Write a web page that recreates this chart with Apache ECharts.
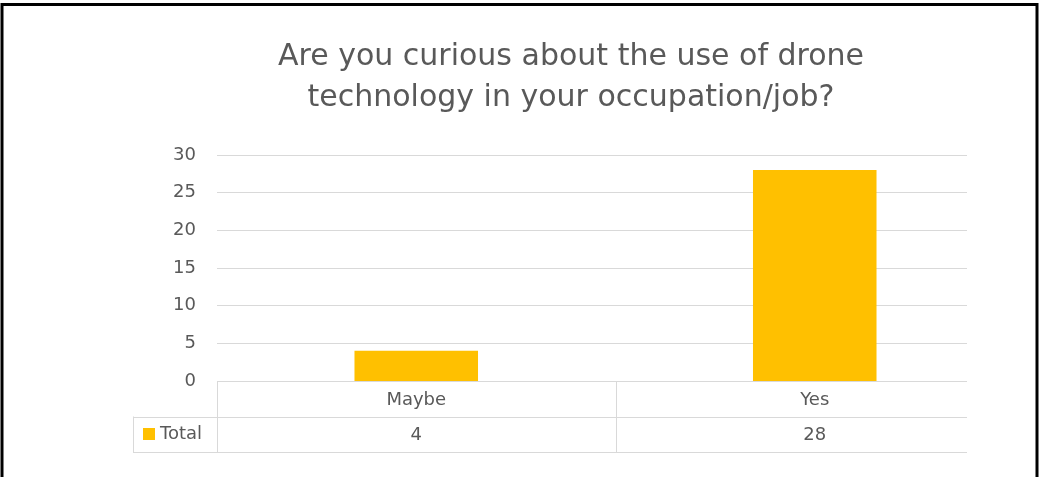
<!DOCTYPE html>
<html>
<head>
<meta charset="utf-8">
<script src="https://cdn.jsdelivr.net/npm/echarts@6/dist/echarts.min.js"></script>
<style>
  html, body { margin: 0; padding: 0; background: #fff; }
  #chart { width: 1041px; height: 477px; }
</style>
</head>
<body>
<div id="chart"></div>
<script>
// Survey answers and counts
const categories = ['Maybe', 'Yes'];
const totals = [4, 28];
const seriesName = 'Total';
const yTicks = { min: 0, max: 30, interval: 5 };
const titleText = 'Are you curious about the use of drone\ntechnology in your occupation/job?';

const textColor = '#595959';
const lineColor = '#d9d9d9';
const barColor = '#FFC000';
const font = 'DejaVu Sans';

// layout
const W = 1041;
const plotLeft = 217;
const plotTop = 155;
const plotBottom = 96;
const gridLinesRight = 74;   // value gridlines and table stop here
const bandsRight = 27;       // category bands span a little further
const headLeft = 133;        // left edge of the "Total" header cell
const rowH = 35.5;

const chart = echarts.init(document.getElementById('chart'), null, { renderer: 'canvas' });

const labelStyle = { fontFamily: font, fontSize: 18, color: textColor };

const option = {
  animation: false,
  backgroundColor: '#fff',
  title: {
    text: titleText,
    left: 566,
    top: 32,
    textAlign: 'center',
    textStyle: {
      fontFamily: font,
      fontSize: 30,
      fontWeight: 'normal',
      color: textColor,
      lineHeight: 40.5
    }
  },
  legend: {
    data: [seriesName],
    left: 138,
    top: 420,
    icon: 'rect',
    itemWidth: 12,
    itemHeight: 12,
    textStyle: labelStyle
  },
  grid: [
    { left: plotLeft, right: bandsRight, top: plotTop, bottom: plotBottom },
    { left: plotLeft, right: gridLinesRight, top: plotTop, bottom: plotBottom }
  ],
  xAxis: [
    {
      gridIndex: 0,
      type: 'category',
      data: categories,
      axisLine: { show: false },
      axisTick: { show: false },
      axisLabel: Object.assign({ margin: 9, lineHeight: 20 }, labelStyle)
    },
    {
      // value row of the data table
      gridIndex: 0,
      type: 'category',
      data: categories,
      position: 'bottom',
      offset: 35,
      axisLine: { show: false },
      axisTick: { show: false },
      axisLabel: Object.assign({
        margin: 9, lineHeight: 20,
        formatter: (v, i) => String(totals[i])
      }, labelStyle)
    },
    {
      gridIndex: 1,
      type: 'category',
      data: categories,
      show: false
    }
  ],
  yAxis: [
    {
      gridIndex: 0,
      type: 'value',
      min: yTicks.min, max: yTicks.max, interval: yTicks.interval,
      show: false,
      splitLine: { show: false }
    },
    {
      gridIndex: 1,
      type: 'value',
      min: yTicks.min, max: yTicks.max, interval: yTicks.interval,
      axisLine: { show: false },
      axisTick: { show: false },
      axisLabel: Object.assign({ margin: 21 }, labelStyle),
      splitLine: { lineStyle: { color: lineColor, width: 1 } }
    }
  ],
  series: [{
    name: seriesName,
    type: 'bar',
    xAxisIndex: 0,
    yAxisIndex: 0,
    data: totals,
    barWidth: '31%',
    itemStyle: { color: barColor }
  }]
};

chart.setOption(option);

// Data table borders, placed from the axis scales
const xa = chart.convertToPixel({ xAxisIndex: 0 }, categories[0]);
const xb = chart.convertToPixel({ xAxisIndex: 0 }, categories[1]);
const band = xb - xa;
const gLeft = xa - band / 2;
const tableRight = W - gridLinesRight;
const y0 = chart.convertToPixel({ yAxisIndex: 1 }, 0);
const y1 = y0 + rowH;
const y2 = y1 + rowH;

const ls = { stroke: lineColor, lineWidth: 1 };
const hline = (xs, xe, y) => ({ type: 'line', silent: true, shape: { x1: xs, y1: Math.round(y) + 0.5, x2: xe, y2: Math.round(y) + 0.5 }, style: ls });
const vline = (x, ys, ye) => ({ type: 'line', silent: true, shape: { x1: Math.round(x) + 0.5, y1: ys, x2: Math.round(x) + 0.5, y2: ye }, style: ls });

const elements = [
  hline(headLeft, tableRight, y1),
  hline(headLeft, tableRight, y2),
  vline(headLeft, y1, y2),
  vline(gLeft, y0, y2)
];
for (let i = 1; i < categories.length; i++) {
  elements.push(vline(gLeft + band * i, y0, y2));
}
// outer frame
elements.push({
  type: 'rect', silent: true,
  shape: { x: 2, y: 4.5, width: 1035, height: 520 },
  style: { fill: 'none', stroke: '#000', lineWidth: 3 }
});

chart.setOption({ graphic: { elements } });
</script>
</body>
</html>
